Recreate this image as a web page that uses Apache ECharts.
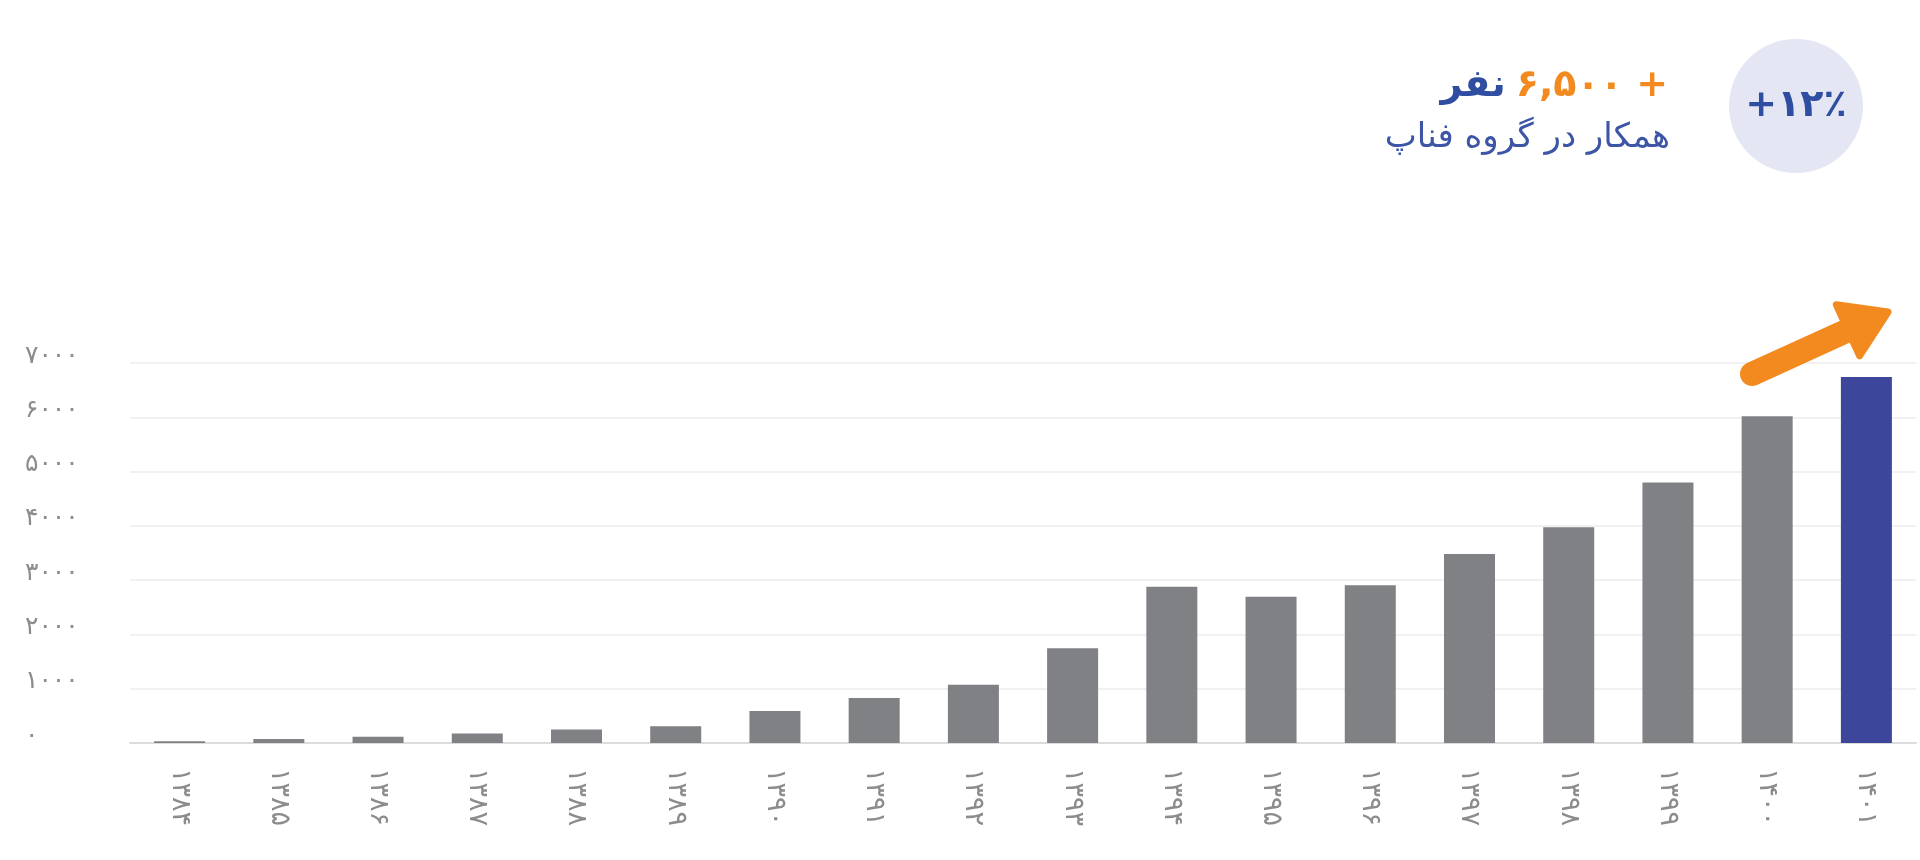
<!DOCTYPE html>
<html>
<head>
<meta charset="utf-8">
<script src="https://cdn.jsdelivr.net/npm/echarts@6/dist/echarts.min.js"></script>
<style>
  html, body { margin: 0; padding: 0; background: #ffffff; }
  #chart { width: 1920px; height: 860px; }
</style>
</head>
<body>
<div id="chart"></div>
<script>
// Years (Solar Hijri), staff head-count per year
const years = ['۱۳۸۴', '۱۳۸۵', '۱۳۸۶', '۱۳۸۷', '۱۳۸۸', '۱۳۸۹', '۱۳۹۰', '۱۳۹۱', '۱۳۹۲',
               '۱۳۹۳', '۱۳۹۴', '۱۳۹۵', '۱۳۹۶', '۱۳۹۷', '۱۳۹۸', '۱۳۹۹', '۱۴۰۰', '۱۴۰۱'];
const staff = [30, 75, 115, 175, 250, 310, 590, 830, 1075,
               1745, 2880, 2695, 2905, 3480, 3975, 4800, 6020, 6740];
const yTickLabels = ['۰', '۱۰۰۰', '۲۰۰۰', '۳۰۰۰', '۴۰۰۰', '۵۰۰۰', '۶۰۰۰', '۷۰۰۰'];

const headlineCount = '۶,۵۰۰ +';
const headlineUnit = 'نفر';
const subtitle = 'همکار در گروه فناپ';
const growthBadge = '+۱۲٪';

const GREY = '#808184';
const NAVY = '#3c479c';
const ORANGE = '#f28a1f';
const BLUE = '#2f4ea2';
const FONT = '"DejaVu Sans", "Noto Sans", sans-serif';

const chart = echarts.init(document.getElementById('chart'), null, { renderer: 'canvas' });

// Trend arrow geometry (decorative, above the latest bar)
const tail = [1752, 374];
const tip = [1888, 312];
const dx = tip[0] - tail[0], dy = tip[1] - tail[1];
const len = Math.hypot(dx, dy);
const ux = dx / len, uy = dy / len;
const nx = -uy, ny = ux;
const headLen = 44, headHalf = 28;
const base = [tip[0] - headLen * ux, tip[1] - headLen * uy];

chart.setOption({
  animation: false,
  grid: { left: 130, right: 4, top: 363, bottom: 117, containLabel: false },
  xAxis: {
    type: 'category',
    data: years,
    boundaryGap: true,
    axisLine: { show: true, lineStyle: { color: '#dcdcdc', width: 2 } },
    axisTick: { show: false },
    axisLabel: {
      rotate: -90,
      margin: 25,
      color: '#8c8c8c',
      fontSize: 27,
      fontFamily: FONT
    }
  },
  yAxis: {
    type: 'value',
    min: 0,
    max: 7000,
    interval: 1000,
    axisLine: { show: false },
    axisTick: { show: false },
    splitLine: { show: true, lineStyle: { color: '#ececec', width: 1.5 } },
    axisLabel: {
      align: 'left',
      verticalAlign: 'bottom',
      lineHeight: 14,
      margin: 105,
      color: '#8c8c8c',
      fontSize: 25,
      fontFamily: FONT,
      formatter: (v) => yTickLabels[Math.round(v / 1000)]
    }
  },
  series: [{
    type: 'bar',
    barWidth: 51,
    data: staff.map((v, i) => ({
      value: v,
      itemStyle: { color: i === staff.length - 1 ? NAVY : GREY }
    }))
  }],
  graphic: [
    // Growth badge
    {
      type: 'circle',
      shape: { cx: 1796, cy: 106, r: 67 },
      style: { fill: '#e4e6f4' },
      z: 10
    },
    {
      type: 'text',
      x: 1796, y: 106,
      style: {
        text: growthBadge,
        fill: BLUE,
        font: 'bold 38px ' + FONT,
        align: 'center',
        verticalAlign: 'middle'
      },
      z: 11
    },
    // Headline: unit (blue) followed by count (orange)
    {
      type: 'text',
      x: 1668, y: 86,
      style: {
        text: '{u|' + headlineUnit + '}{c|' + headlineCount + '}',
        align: 'right',
        verticalAlign: 'middle',
        rich: {
          u: { fill: BLUE, font: 'bold 38px ' + FONT, padding: [0, 10, 0, 0] },
          c: { fill: ORANGE, font: 'bold 38px ' + FONT }
        }
      },
      z: 11
    },
    {
      type: 'text',
      x: 1670, y: 138,
      style: {
        text: subtitle,
        fill: '#3d55a5',
        font: '34px ' + FONT,
        align: 'right',
        verticalAlign: 'middle'
      },
      z: 11
    },
    // Trend arrow
    {
      type: 'line',
      shape: { x1: tail[0], y1: tail[1], x2: base[0] + 4 * ux, y2: base[1] + 4 * uy },
      style: { stroke: ORANGE, lineWidth: 24, lineCap: 'round' },
      z: 12
    },
    {
      type: 'polygon',
      shape: {
        points: [
          [tip[0], tip[1]],
          [base[0] + headHalf * nx, base[1] + headHalf * ny],
          [base[0] - headHalf * nx, base[1] - headHalf * ny]
        ]
      },
      style: { fill: ORANGE, stroke: ORANGE, lineWidth: 7, lineJoin: 'round' },
      z: 12
    }
  ]
});
</script>
</body>
</html>
